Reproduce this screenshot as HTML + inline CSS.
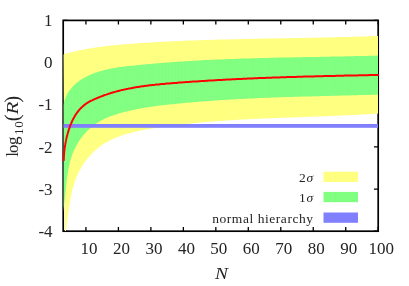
<!DOCTYPE html>
<html><head><meta charset="utf-8"><title>plot</title>
<style>
html,body{margin:0;padding:0;background:#fff;}
body{width:409px;height:286px;overflow:hidden;}
svg{display:block;}
text{font-family:"Liberation Serif",serif;fill:#242424;}
</style></head><body>
<svg width="409" height="286" viewBox="0 0 409 286">
<rect width="409" height="286" fill="#fff"/>
<defs><filter id="gs" x="0" y="0" width="409" height="286" filterUnits="userSpaceOnUse" color-interpolation-filters="sRGB"><feColorMatrix type="saturate" values="0"/></filter><clipPath id="c"><rect x="63.550000000000004" y="20.4" width="314.5" height="210.49999999999997"/></clipPath><clipPath id="b2"><path d="M63.0,54.4L63.1,54.4L63.2,54.4L63.3,54.4L63.5,54.3L63.7,54.3L63.9,54.2L64.1,54.1L64.4,54.1L64.6,54.0L64.9,53.9L65.2,53.8L65.5,53.7L65.8,53.7L66.1,53.6L66.5,53.5L66.8,53.4L67.2,53.3L67.6,53.2L67.9,53.1L68.3,53.0L68.7,52.9L69.1,52.8L69.6,52.7L70.0,52.6L70.4,52.4L70.9,52.3L71.3,52.2L71.8,52.1L72.3,52.0L72.8,51.9L73.3,51.8L73.8,51.6L74.3,51.5L74.8,51.4L75.3,51.3L75.8,51.2L76.4,51.0L76.9,50.9L77.5,50.8L78.1,50.7L78.6,50.5L79.2,50.4L79.8,50.3L80.4,50.2L81.0,50.1L81.6,49.9L82.2,49.8L82.8,49.7L83.4,49.6L84.1,49.5L84.7,49.3L85.4,49.2L86.0,49.1L86.7,49.0L87.3,48.9L88.0,48.7L88.7,48.6L89.4,48.5L90.1,48.4L90.8,48.3L91.5,48.2L92.2,48.0L92.9,47.9L93.6,47.8L94.3,47.7L95.1,47.6L95.8,47.5L96.5,47.4L97.3,47.3L98.0,47.2L98.8,47.1L99.6,47.0L100.3,46.9L101.1,46.8L101.9,46.6L102.7,46.5L103.5,46.4L104.3,46.4L105.1,46.3L105.9,46.2L106.7,46.1L107.5,46.0L108.4,45.9L109.2,45.8L110.0,45.7L110.9,45.6L111.7,45.5L112.6,45.4L113.4,45.3L114.3,45.2L115.2,45.2L116.1,45.1L116.9,45.0L117.8,44.9L118.7,44.8L119.6,44.7L120.5,44.7L121.4,44.6L122.3,44.5L123.2,44.4L124.1,44.4L125.0,44.3L126.0,44.2L126.9,44.1L127.8,44.1L128.8,44.0L129.7,43.9L130.7,43.8L131.6,43.8L132.6,43.7L133.5,43.6L134.5,43.6L135.5,43.5L136.5,43.4L137.4,43.3L138.4,43.3L139.4,43.2L140.4,43.1L141.4,43.1L142.4,43.0L143.4,42.9L144.4,42.9L145.4,42.8L146.4,42.7L147.5,42.7L148.5,42.6L149.5,42.6L150.6,42.5L151.6,42.4L152.6,42.4L153.7,42.3L154.7,42.2L155.8,42.2L156.9,42.1L157.9,42.1L159.0,42.0L160.1,41.9L161.1,41.9L162.2,41.8L163.3,41.8L164.4,41.7L165.5,41.7L166.6,41.6L167.7,41.5L168.8,41.5L169.9,41.4L171.0,41.4L172.1,41.3L173.2,41.3L174.3,41.2L175.5,41.2L176.6,41.1L177.7,41.1L178.8,41.0L180.0,41.0L181.1,40.9L182.3,40.9L183.4,40.8L184.6,40.8L185.7,40.7L186.9,40.7L188.1,40.6L189.2,40.6L190.4,40.5L191.6,40.5L192.8,40.5L194.0,40.4L195.1,40.4L196.3,40.3L197.5,40.3L198.7,40.2L199.9,40.2L201.1,40.2L202.3,40.1L203.5,40.1L204.8,40.0L206.0,40.0L207.2,40.0L208.4,39.9L209.7,39.9L210.9,39.8L212.1,39.8L213.4,39.8L214.6,39.7L215.9,39.7L217.1,39.7L218.4,39.6L219.6,39.6L220.9,39.6L222.1,39.5L223.4,39.5L224.7,39.5L226.0,39.4L227.2,39.4L228.5,39.4L229.8,39.3L231.1,39.3L232.4,39.3L233.7,39.2L235.0,39.2L236.3,39.2L237.6,39.2L238.9,39.1L240.2,39.1L241.5,39.1L242.8,39.0L244.1,39.0L245.5,39.0L246.8,39.0L248.1,38.9L249.4,38.9L250.8,38.9L252.1,38.9L253.5,38.8L254.8,38.8L256.1,38.8L257.5,38.7L258.9,38.7L260.2,38.7L261.6,38.7L262.9,38.6L264.3,38.6L265.7,38.6L267.0,38.6L268.4,38.5L269.8,38.5L271.2,38.5L272.6,38.5L273.9,38.5L275.3,38.4L276.7,38.4L278.1,38.4L279.5,38.4L280.9,38.3L282.3,38.3L283.7,38.3L285.2,38.3L286.6,38.2L288.0,38.2L289.4,38.2L290.8,38.2L292.3,38.1L293.7,38.1L295.1,38.1L296.6,38.1L298.0,38.0L299.4,38.0L300.9,38.0L302.3,37.9L303.8,37.9L305.2,37.9L306.7,37.9L308.1,37.8L309.6,37.8L311.1,37.8L312.5,37.8L314.0,37.7L315.5,37.7L317.0,37.7L318.4,37.6L319.9,37.6L321.4,37.6L322.9,37.5L324.4,37.5L325.9,37.5L327.4,37.4L328.9,37.4L330.4,37.4L331.9,37.3L333.4,37.3L334.9,37.3L336.4,37.2L337.9,37.2L339.4,37.1L340.9,37.1L342.5,37.1L344.0,37.0L345.5,37.0L347.0,36.9L348.6,36.9L350.1,36.9L351.6,36.8L353.2,36.8L354.7,36.7L356.3,36.7L357.8,36.6L359.4,36.6L360.9,36.5L362.5,36.5L364.0,36.4L365.6,36.4L367.2,36.3L368.7,36.2L370.3,36.2L371.9,36.1L373.4,36.1L375.0,36.0L376.6,35.9L378.2,35.9L378.2,113.6L376.3,113.7L374.4,113.8L372.5,113.9L370.6,114.1L368.7,114.2L366.8,114.3L364.9,114.4L363.0,114.5L361.1,114.6L359.2,114.7L357.3,114.8L355.4,114.9L353.5,115.0L351.7,115.1L349.8,115.2L347.9,115.2L346.0,115.3L344.2,115.4L342.3,115.5L340.4,115.6L338.5,115.7L336.7,115.7L334.8,115.8L333.0,115.9L331.1,116.0L329.3,116.0L327.4,116.1L325.6,116.2L323.7,116.2L321.9,116.3L320.0,116.4L318.2,116.5L316.4,116.5L314.5,116.6L312.7,116.7L310.9,116.7L309.1,116.8L307.2,116.9L305.4,116.9L303.6,117.0L301.8,117.1L300.0,117.1L298.2,117.2L296.4,117.2L294.6,117.3L292.8,117.4L291.0,117.4L289.2,117.5L287.5,117.6L285.7,117.6L283.9,117.7L282.1,117.8L280.4,117.8L278.6,117.9L276.9,118.0L275.1,118.1L273.4,118.1L271.6,118.2L269.9,118.3L268.1,118.3L266.4,118.4L264.7,118.5L262.9,118.6L261.2,118.6L259.5,118.7L257.8,118.8L256.1,118.9L254.4,119.0L252.7,119.0L251.0,119.1L249.3,119.2L247.6,119.3L245.9,119.4L244.3,119.5L242.6,119.6L240.9,119.6L239.3,119.7L237.6,119.8L235.9,119.9L234.3,120.0L232.7,120.1L231.0,120.2L229.4,120.3L227.7,120.4L226.1,120.5L224.5,120.6L222.9,120.7L221.3,120.9L219.7,121.0L218.1,121.1L216.5,121.2L214.9,121.3L213.3,121.4L211.7,121.6L210.1,121.7L208.6,121.8L207.0,121.9L205.4,122.1L203.9,122.2L202.3,122.4L200.8,122.5L199.2,122.6L197.7,122.8L196.1,122.9L194.6,123.1L193.0,123.2L191.5,123.4L190.0,123.5L188.5,123.7L186.9,123.8L185.4,124.0L183.9,124.2L182.4,124.4L180.9,124.5L179.4,124.7L177.9,124.9L176.4,125.1L174.9,125.2L173.4,125.4L171.9,125.6L170.4,125.8L169.0,126.0L167.5,126.2L166.0,126.4L164.5,126.6L163.1,126.8L161.6,127.0L160.1,127.2L158.7,127.5L157.2,127.7L155.8,127.9L154.3,128.1L152.9,128.4L151.4,128.6L150.0,128.8L148.6,129.1L147.1,129.3L145.7,129.6L144.3,129.8L142.9,130.1L141.5,130.4L140.0,130.6L138.7,130.9L137.3,131.2L135.9,131.5L134.5,131.8L133.2,132.2L131.8,132.5L130.5,132.9L129.1,133.2L127.8,133.6L126.5,134.0L125.2,134.3L123.9,134.8L122.6,135.2L121.4,135.6L120.1,136.0L118.9,136.5L117.6,137.0L116.4,137.5L115.2,138.0L114.0,138.5L112.8,139.0L111.7,139.5L110.5,140.1L109.4,140.7L108.3,141.3L107.2,141.9L106.1,142.5L105.0,143.2L104.0,143.8L102.9,144.5L101.9,145.2L100.9,145.9L99.9,146.6L98.9,147.4L98.0,148.1L97.0,148.9L96.1,149.7L95.2,150.5L94.3,151.3L93.4,152.1L92.6,153.0L91.7,153.8L90.9,154.7L90.1,155.6L89.3,156.5L88.5,157.4L87.8,158.3L87.0,159.2L86.3,160.1L85.6,161.0L84.9,162.0L84.3,162.9L83.6,163.9L83.0,164.8L82.4,165.8L81.8,166.7L81.2,167.7L80.6,168.7L80.1,169.6L79.5,170.6L79.0,171.6L78.5,172.6L78.1,173.6L77.6,174.5L77.2,175.5L76.7,176.5L76.3,177.5L75.9,178.5L75.5,179.5L75.2,180.5L74.8,181.4L74.5,182.4L74.2,183.4L73.9,184.4L73.6,185.4L73.3,186.3L73.1,187.3L72.8,188.3L72.6,189.2L72.4,190.2L72.1,191.1L71.9,192.1L71.7,193.0L71.5,194.0L71.3,194.9L71.2,195.8L71.0,196.8L70.8,197.7L70.6,198.6L70.5,199.5L70.3,200.4L70.2,201.3L70.0,202.2L69.9,203.1L69.7,203.9L69.6,204.8L69.5,205.6L69.3,206.5L69.2,207.3L69.1,208.2L68.9,209.0L68.8,209.8L68.7,210.7L68.6,211.5L68.5,212.3L68.3,213.1L68.2,213.9L68.1,214.6L68.0,215.4L67.9,216.2L67.8,216.9L67.7,217.7L67.6,218.4L67.5,219.1L67.4,219.9L67.3,220.6L67.2,221.3L67.2,222.0L67.1,222.7L67.0,223.3L66.9,224.0L66.8,224.7L66.7,225.3L66.7,226.0L66.6,226.6L66.5,227.2L66.4,227.8L66.3,228.4L66.3,229.0L66.2,229.6L66.1,230.2L66.1,230.7L66.0,231.3L65.9,231.8L65.9,232.4L65.8,232.9L65.8,233.4L65.7,233.9L65.6,234.3L65.6,234.8L65.5,235.3L65.5,235.7L65.4,236.1L65.4,236.5L65.3,236.9L65.3,237.3L65.2,237.6L65.2,238.0L65.2,238.3L65.1,238.6L65.1,238.9L65.1,239.2L65.0,239.4L65.0,239.6L65.0,239.8L65.0,239.9L65.0,240.0Z"/></clipPath></defs>
<g stroke="#000" stroke-width="1.3" fill="none"><path d="M85.93,231.2v-4.2M85.93,20.4v4.2"/><path d="M118.41,231.2v-4.2M118.41,20.4v4.2"/><path d="M150.88,231.2v-4.2M150.88,20.4v4.2"/><path d="M183.35,231.2v-4.2M183.35,20.4v4.2"/><path d="M215.83,231.2v-4.2M215.83,20.4v4.2"/><path d="M248.30,231.2v-4.2M248.30,20.4v4.2"/><path d="M280.78,231.2v-4.2M280.78,20.4v4.2"/><path d="M313.25,231.2v-4.2M313.25,20.4v4.2"/><path d="M345.73,231.2v-4.2M345.73,20.4v4.2"/><path d="M378.20,231.2v-4.2M378.20,20.4v4.2"/><path d="M63.2,231.20h4.2M378.2,231.20h-4.2"/><path d="M63.2,189.04h4.2M378.2,189.04h-4.2"/><path d="M63.2,146.88h4.2M378.2,146.88h-4.2"/><path d="M63.2,104.72h4.2M378.2,104.72h-4.2"/><path d="M63.2,62.56h4.2M378.2,62.56h-4.2"/><path d="M63.2,20.40h4.2M378.2,20.40h-4.2"/></g>
<rect x="63.2" y="20.4" width="315.0" height="210.79999999999998" fill="none" stroke="#000" stroke-width="1.7"/>
<g clip-path="url(#c)">
<path d="M63.0,54.4L63.1,54.4L63.2,54.4L63.3,54.4L63.5,54.3L63.7,54.3L63.9,54.2L64.1,54.1L64.4,54.1L64.6,54.0L64.9,53.9L65.2,53.8L65.5,53.7L65.8,53.7L66.1,53.6L66.5,53.5L66.8,53.4L67.2,53.3L67.6,53.2L67.9,53.1L68.3,53.0L68.7,52.9L69.1,52.8L69.6,52.7L70.0,52.6L70.4,52.4L70.9,52.3L71.3,52.2L71.8,52.1L72.3,52.0L72.8,51.9L73.3,51.8L73.8,51.6L74.3,51.5L74.8,51.4L75.3,51.3L75.8,51.2L76.4,51.0L76.9,50.9L77.5,50.8L78.1,50.7L78.6,50.5L79.2,50.4L79.8,50.3L80.4,50.2L81.0,50.1L81.6,49.9L82.2,49.8L82.8,49.7L83.4,49.6L84.1,49.5L84.7,49.3L85.4,49.2L86.0,49.1L86.7,49.0L87.3,48.9L88.0,48.7L88.7,48.6L89.4,48.5L90.1,48.4L90.8,48.3L91.5,48.2L92.2,48.0L92.9,47.9L93.6,47.8L94.3,47.7L95.1,47.6L95.8,47.5L96.5,47.4L97.3,47.3L98.0,47.2L98.8,47.1L99.6,47.0L100.3,46.9L101.1,46.8L101.9,46.6L102.7,46.5L103.5,46.4L104.3,46.4L105.1,46.3L105.9,46.2L106.7,46.1L107.5,46.0L108.4,45.9L109.2,45.8L110.0,45.7L110.9,45.6L111.7,45.5L112.6,45.4L113.4,45.3L114.3,45.2L115.2,45.2L116.1,45.1L116.9,45.0L117.8,44.9L118.7,44.8L119.6,44.7L120.5,44.7L121.4,44.6L122.3,44.5L123.2,44.4L124.1,44.4L125.0,44.3L126.0,44.2L126.9,44.1L127.8,44.1L128.8,44.0L129.7,43.9L130.7,43.8L131.6,43.8L132.6,43.7L133.5,43.6L134.5,43.6L135.5,43.5L136.5,43.4L137.4,43.3L138.4,43.3L139.4,43.2L140.4,43.1L141.4,43.1L142.4,43.0L143.4,42.9L144.4,42.9L145.4,42.8L146.4,42.7L147.5,42.7L148.5,42.6L149.5,42.6L150.6,42.5L151.6,42.4L152.6,42.4L153.7,42.3L154.7,42.2L155.8,42.2L156.9,42.1L157.9,42.1L159.0,42.0L160.1,41.9L161.1,41.9L162.2,41.8L163.3,41.8L164.4,41.7L165.5,41.7L166.6,41.6L167.7,41.5L168.8,41.5L169.9,41.4L171.0,41.4L172.1,41.3L173.2,41.3L174.3,41.2L175.5,41.2L176.6,41.1L177.7,41.1L178.8,41.0L180.0,41.0L181.1,40.9L182.3,40.9L183.4,40.8L184.6,40.8L185.7,40.7L186.9,40.7L188.1,40.6L189.2,40.6L190.4,40.5L191.6,40.5L192.8,40.5L194.0,40.4L195.1,40.4L196.3,40.3L197.5,40.3L198.7,40.2L199.9,40.2L201.1,40.2L202.3,40.1L203.5,40.1L204.8,40.0L206.0,40.0L207.2,40.0L208.4,39.9L209.7,39.9L210.9,39.8L212.1,39.8L213.4,39.8L214.6,39.7L215.9,39.7L217.1,39.7L218.4,39.6L219.6,39.6L220.9,39.6L222.1,39.5L223.4,39.5L224.7,39.5L226.0,39.4L227.2,39.4L228.5,39.4L229.8,39.3L231.1,39.3L232.4,39.3L233.7,39.2L235.0,39.2L236.3,39.2L237.6,39.2L238.9,39.1L240.2,39.1L241.5,39.1L242.8,39.0L244.1,39.0L245.5,39.0L246.8,39.0L248.1,38.9L249.4,38.9L250.8,38.9L252.1,38.9L253.5,38.8L254.8,38.8L256.1,38.8L257.5,38.7L258.9,38.7L260.2,38.7L261.6,38.7L262.9,38.6L264.3,38.6L265.7,38.6L267.0,38.6L268.4,38.5L269.8,38.5L271.2,38.5L272.6,38.5L273.9,38.5L275.3,38.4L276.7,38.4L278.1,38.4L279.5,38.4L280.9,38.3L282.3,38.3L283.7,38.3L285.2,38.3L286.6,38.2L288.0,38.2L289.4,38.2L290.8,38.2L292.3,38.1L293.7,38.1L295.1,38.1L296.6,38.1L298.0,38.0L299.4,38.0L300.9,38.0L302.3,37.9L303.8,37.9L305.2,37.9L306.7,37.9L308.1,37.8L309.6,37.8L311.1,37.8L312.5,37.8L314.0,37.7L315.5,37.7L317.0,37.7L318.4,37.6L319.9,37.6L321.4,37.6L322.9,37.5L324.4,37.5L325.9,37.5L327.4,37.4L328.9,37.4L330.4,37.4L331.9,37.3L333.4,37.3L334.9,37.3L336.4,37.2L337.9,37.2L339.4,37.1L340.9,37.1L342.5,37.1L344.0,37.0L345.5,37.0L347.0,36.9L348.6,36.9L350.1,36.9L351.6,36.8L353.2,36.8L354.7,36.7L356.3,36.7L357.8,36.6L359.4,36.6L360.9,36.5L362.5,36.5L364.0,36.4L365.6,36.4L367.2,36.3L368.7,36.2L370.3,36.2L371.9,36.1L373.4,36.1L375.0,36.0L376.6,35.9L378.2,35.9L378.2,113.6L376.3,113.7L374.4,113.8L372.5,113.9L370.6,114.1L368.7,114.2L366.8,114.3L364.9,114.4L363.0,114.5L361.1,114.6L359.2,114.7L357.3,114.8L355.4,114.9L353.5,115.0L351.7,115.1L349.8,115.2L347.9,115.2L346.0,115.3L344.2,115.4L342.3,115.5L340.4,115.6L338.5,115.7L336.7,115.7L334.8,115.8L333.0,115.9L331.1,116.0L329.3,116.0L327.4,116.1L325.6,116.2L323.7,116.2L321.9,116.3L320.0,116.4L318.2,116.5L316.4,116.5L314.5,116.6L312.7,116.7L310.9,116.7L309.1,116.8L307.2,116.9L305.4,116.9L303.6,117.0L301.8,117.1L300.0,117.1L298.2,117.2L296.4,117.2L294.6,117.3L292.8,117.4L291.0,117.4L289.2,117.5L287.5,117.6L285.7,117.6L283.9,117.7L282.1,117.8L280.4,117.8L278.6,117.9L276.9,118.0L275.1,118.1L273.4,118.1L271.6,118.2L269.9,118.3L268.1,118.3L266.4,118.4L264.7,118.5L262.9,118.6L261.2,118.6L259.5,118.7L257.8,118.8L256.1,118.9L254.4,119.0L252.7,119.0L251.0,119.1L249.3,119.2L247.6,119.3L245.9,119.4L244.3,119.5L242.6,119.6L240.9,119.6L239.3,119.7L237.6,119.8L235.9,119.9L234.3,120.0L232.7,120.1L231.0,120.2L229.4,120.3L227.7,120.4L226.1,120.5L224.5,120.6L222.9,120.7L221.3,120.9L219.7,121.0L218.1,121.1L216.5,121.2L214.9,121.3L213.3,121.4L211.7,121.6L210.1,121.7L208.6,121.8L207.0,121.9L205.4,122.1L203.9,122.2L202.3,122.4L200.8,122.5L199.2,122.6L197.7,122.8L196.1,122.9L194.6,123.1L193.0,123.2L191.5,123.4L190.0,123.5L188.5,123.7L186.9,123.8L185.4,124.0L183.9,124.2L182.4,124.4L180.9,124.5L179.4,124.7L177.9,124.9L176.4,125.1L174.9,125.2L173.4,125.4L171.9,125.6L170.4,125.8L169.0,126.0L167.5,126.2L166.0,126.4L164.5,126.6L163.1,126.8L161.6,127.0L160.1,127.2L158.7,127.5L157.2,127.7L155.8,127.9L154.3,128.1L152.9,128.4L151.4,128.6L150.0,128.8L148.6,129.1L147.1,129.3L145.7,129.6L144.3,129.8L142.9,130.1L141.5,130.4L140.0,130.6L138.7,130.9L137.3,131.2L135.9,131.5L134.5,131.8L133.2,132.2L131.8,132.5L130.5,132.9L129.1,133.2L127.8,133.6L126.5,134.0L125.2,134.3L123.9,134.8L122.6,135.2L121.4,135.6L120.1,136.0L118.9,136.5L117.6,137.0L116.4,137.5L115.2,138.0L114.0,138.5L112.8,139.0L111.7,139.5L110.5,140.1L109.4,140.7L108.3,141.3L107.2,141.9L106.1,142.5L105.0,143.2L104.0,143.8L102.9,144.5L101.9,145.2L100.9,145.9L99.9,146.6L98.9,147.4L98.0,148.1L97.0,148.9L96.1,149.7L95.2,150.5L94.3,151.3L93.4,152.1L92.6,153.0L91.7,153.8L90.9,154.7L90.1,155.6L89.3,156.5L88.5,157.4L87.8,158.3L87.0,159.2L86.3,160.1L85.6,161.0L84.9,162.0L84.3,162.9L83.6,163.9L83.0,164.8L82.4,165.8L81.8,166.7L81.2,167.7L80.6,168.7L80.1,169.6L79.5,170.6L79.0,171.6L78.5,172.6L78.1,173.6L77.6,174.5L77.2,175.5L76.7,176.5L76.3,177.5L75.9,178.5L75.5,179.5L75.2,180.5L74.8,181.4L74.5,182.4L74.2,183.4L73.9,184.4L73.6,185.4L73.3,186.3L73.1,187.3L72.8,188.3L72.6,189.2L72.4,190.2L72.1,191.1L71.9,192.1L71.7,193.0L71.5,194.0L71.3,194.9L71.2,195.8L71.0,196.8L70.8,197.7L70.6,198.6L70.5,199.5L70.3,200.4L70.2,201.3L70.0,202.2L69.9,203.1L69.7,203.9L69.6,204.8L69.5,205.6L69.3,206.5L69.2,207.3L69.1,208.2L68.9,209.0L68.8,209.8L68.7,210.7L68.6,211.5L68.5,212.3L68.3,213.1L68.2,213.9L68.1,214.6L68.0,215.4L67.9,216.2L67.8,216.9L67.7,217.7L67.6,218.4L67.5,219.1L67.4,219.9L67.3,220.6L67.2,221.3L67.2,222.0L67.1,222.7L67.0,223.3L66.9,224.0L66.8,224.7L66.7,225.3L66.7,226.0L66.6,226.6L66.5,227.2L66.4,227.8L66.3,228.4L66.3,229.0L66.2,229.6L66.1,230.2L66.1,230.7L66.0,231.3L65.9,231.8L65.9,232.4L65.8,232.9L65.8,233.4L65.7,233.9L65.6,234.3L65.6,234.8L65.5,235.3L65.5,235.7L65.4,236.1L65.4,236.5L65.3,236.9L65.3,237.3L65.2,237.6L65.2,238.0L65.2,238.3L65.1,238.6L65.1,238.9L65.1,239.2L65.0,239.4L65.0,239.6L65.0,239.8L65.0,239.9L65.0,240.0Z" fill="#ffff80"/>
<path d="M63.3,105.8L63.3,105.8L63.3,105.6L63.3,105.5L63.4,105.3L63.4,105.0L63.5,104.8L63.5,104.5L63.6,104.2L63.6,103.9L63.7,103.6L63.8,103.3L63.9,102.9L64.0,102.6L64.1,102.2L64.2,101.8L64.3,101.4L64.4,101.0L64.5,100.6L64.6,100.2L64.8,99.8L64.9,99.3L65.1,98.9L65.3,98.5L65.4,98.0L65.6,97.5L65.8,97.1L66.0,96.6L66.2,96.1L66.5,95.7L66.7,95.2L66.9,94.7L67.2,94.2L67.5,93.8L67.7,93.3L68.0,92.8L68.3,92.3L68.6,91.8L69.0,91.3L69.3,90.8L69.6,90.3L70.0,89.9L70.4,89.4L70.7,88.9L71.1,88.4L71.5,87.9L72.0,87.4L72.4,87.0L72.8,86.5L73.3,86.0L73.7,85.5L74.2,85.1L74.7,84.6L75.2,84.1L75.7,83.7L76.2,83.2L76.8,82.8L77.3,82.3L77.9,81.9L78.5,81.5L79.0,81.0L79.6,80.6L80.2,80.2L80.9,79.8L81.5,79.4L82.1,79.0L82.8,78.6L83.5,78.2L84.1,77.8L84.8,77.4L85.5,77.0L86.2,76.7L87.0,76.3L87.7,76.0L88.4,75.6L89.2,75.3L89.9,74.9L90.7,74.6L91.5,74.3L92.3,73.9L93.1,73.6L93.9,73.3L94.7,73.0L95.5,72.7L96.4,72.4L97.2,72.2L98.0,71.9L98.9,71.6L99.8,71.4L100.6,71.1L101.5,70.9L102.4,70.6L103.3,70.4L104.2,70.1L105.1,69.9L106.0,69.7L106.9,69.5L107.9,69.3L108.8,69.1L109.7,68.9L110.7,68.7L111.6,68.5L112.6,68.3L113.6,68.2L114.5,68.0L115.5,67.8L116.5,67.7L117.5,67.5L118.5,67.3L119.5,67.2L120.5,67.1L121.5,66.9L122.6,66.8L123.6,66.6L124.6,66.5L125.7,66.4L126.7,66.3L127.8,66.1L128.8,66.0L129.9,65.9L130.9,65.8L132.0,65.7L133.1,65.6L134.1,65.5L135.2,65.4L136.3,65.2L137.4,65.1L138.5,65.0L139.6,64.9L140.6,64.8L141.7,64.7L142.8,64.6L143.9,64.5L145.1,64.4L146.2,64.3L147.3,64.2L148.4,64.1L149.5,64.0L150.6,63.9L151.8,63.8L152.9,63.7L154.0,63.6L155.2,63.5L156.3,63.4L157.5,63.3L158.6,63.2L159.8,63.1L160.9,63.0L162.1,62.9L163.3,62.8L164.4,62.7L165.6,62.6L166.8,62.5L167.9,62.5L169.1,62.4L170.3,62.3L171.5,62.2L172.7,62.1L173.9,62.0L175.1,61.9L176.3,61.8L177.5,61.8L178.7,61.7L179.9,61.6L181.2,61.5L182.4,61.4L183.6,61.4L184.9,61.3L186.1,61.2L187.3,61.1L188.6,61.1L189.8,61.0L191.1,60.9L192.3,60.8L193.6,60.8L194.9,60.7L196.1,60.6L197.4,60.5L198.7,60.5L200.0,60.4L201.2,60.3L202.5,60.3L203.8,60.2L205.1,60.1L206.4,60.1L207.7,60.0L209.0,59.9L210.3,59.9L211.7,59.8L213.0,59.8L214.3,59.7L215.6,59.6L217.0,59.6L218.3,59.5L219.6,59.5L221.0,59.4L222.3,59.4L223.7,59.3L225.0,59.2L226.4,59.2L227.7,59.1L229.1,59.1L230.5,59.0L231.8,59.0L233.2,58.9L234.6,58.9L236.0,58.8L237.3,58.8L238.7,58.7L240.1,58.7L241.5,58.6L242.9,58.6L244.3,58.6L245.7,58.5L247.1,58.5L248.6,58.4L250.0,58.4L251.4,58.3L252.8,58.3L254.2,58.3L255.7,58.2L257.1,58.2L258.5,58.1L260.0,58.1L261.4,58.1L262.9,58.0L264.3,58.0L265.8,57.9L267.2,57.9L268.7,57.9L270.1,57.8L271.6,57.8L273.1,57.8L274.6,57.7L276.0,57.7L277.5,57.7L279.0,57.6L280.5,57.6L282.0,57.6L283.5,57.5L285.0,57.5L286.5,57.5L288.0,57.4L289.5,57.4L291.0,57.4L292.5,57.4L294.0,57.3L295.5,57.3L297.0,57.3L298.5,57.2L300.1,57.2L301.6,57.2L303.1,57.1L304.7,57.1L306.2,57.1L307.7,57.1L309.3,57.0L310.8,57.0L312.4,57.0L313.9,56.9L315.5,56.9L317.0,56.9L318.6,56.9L320.2,56.8L321.7,56.8L323.3,56.8L324.9,56.7L326.5,56.7L328.0,56.7L329.6,56.7L331.2,56.6L332.8,56.6L334.4,56.6L336.0,56.5L337.5,56.5L339.1,56.5L340.7,56.4L342.3,56.4L343.9,56.4L345.6,56.3L347.2,56.3L348.8,56.3L350.4,56.2L352.0,56.2L353.6,56.2L355.2,56.1L356.9,56.1L358.5,56.1L360.1,56.0L361.7,56.0L363.4,56.0L365.0,55.9L366.7,55.9L368.3,55.8L369.9,55.8L371.6,55.8L373.2,55.7L374.9,55.7L376.5,55.6L378.2,55.6L378.2,94.6L376.3,94.7L374.4,94.7L372.5,94.8L370.5,94.8L368.6,94.9L366.7,94.9L364.8,95.0L362.9,95.0L361.0,95.1L359.2,95.1L357.3,95.2L355.4,95.2L353.5,95.3L351.6,95.3L349.7,95.4L347.9,95.4L346.0,95.5L344.1,95.5L342.3,95.6L340.4,95.6L338.6,95.7L336.7,95.7L334.9,95.7L333.0,95.8L331.2,95.8L329.3,95.9L327.5,95.9L325.7,96.0L323.8,96.0L322.0,96.1L320.2,96.1L318.4,96.2L316.5,96.2L314.7,96.3L312.9,96.3L311.1,96.4L309.3,96.4L307.5,96.5L305.7,96.5L303.9,96.6L302.1,96.6L300.3,96.7L298.6,96.7L296.8,96.8L295.0,96.8L293.2,96.9L291.5,96.9L289.7,97.0L287.9,97.0L286.2,97.1L284.4,97.1L282.7,97.2L280.9,97.3L279.2,97.3L277.4,97.4L275.7,97.4L274.0,97.5L272.2,97.6L270.5,97.6L268.8,97.7L267.1,97.8L265.3,97.8L263.6,97.9L261.9,98.0L260.2,98.1L258.5,98.1L256.8,98.2L255.1,98.3L253.4,98.4L251.8,98.4L250.1,98.5L248.4,98.6L246.7,98.7L245.1,98.8L243.4,98.8L241.7,98.9L240.1,99.0L238.4,99.1L236.8,99.2L235.1,99.3L233.5,99.4L231.8,99.5L230.2,99.6L228.6,99.7L227.0,99.7L225.3,99.8L223.7,99.9L222.1,100.1L220.5,100.2L218.9,100.3L217.3,100.4L215.7,100.5L214.1,100.6L212.5,100.7L210.9,100.8L209.3,100.9L207.8,101.0L206.2,101.2L204.6,101.3L203.0,101.4L201.5,101.5L199.9,101.6L198.4,101.8L196.8,101.9L195.3,102.0L193.7,102.2L192.2,102.3L190.7,102.4L189.1,102.6L187.6,102.7L186.1,102.8L184.6,103.0L183.1,103.1L181.6,103.3L180.1,103.4L178.6,103.6L177.1,103.7L175.6,103.9L174.1,104.0L172.6,104.2L171.2,104.3L169.7,104.5L168.2,104.6L166.8,104.8L165.3,105.0L163.8,105.1L162.4,105.3L161.0,105.5L159.5,105.6L158.1,105.8L156.7,106.0L155.2,106.2L153.8,106.4L152.4,106.6L151.0,106.8L149.6,107.0L148.2,107.2L146.8,107.4L145.4,107.6L144.0,107.9L142.6,108.1L141.2,108.4L139.9,108.6L138.5,108.9L137.1,109.1L135.8,109.4L134.4,109.7L133.1,109.9L131.7,110.2L130.4,110.5L129.1,110.8L127.7,111.2L126.4,111.5L125.1,111.8L123.8,112.1L122.5,112.5L121.2,112.8L119.9,113.2L118.6,113.6L117.3,114.0L116.1,114.4L114.8,114.8L113.6,115.2L112.3,115.7L111.1,116.1L109.9,116.6L108.7,117.0L107.5,117.5L106.3,118.0L105.2,118.6L104.1,119.1L102.9,119.7L101.8,120.2L100.7,120.8L99.7,121.4L98.6,122.0L97.6,122.7L96.5,123.3L95.5,124.0L94.6,124.7L93.6,125.4L92.7,126.1L91.7,126.9L90.8,127.6L89.9,128.4L89.1,129.2L88.2,130.0L87.4,130.8L86.6,131.6L85.8,132.5L85.0,133.3L84.3,134.2L83.5,135.0L82.8,135.9L82.1,136.8L81.4,137.7L80.8,138.6L80.1,139.5L79.5,140.4L78.9,141.3L78.3,142.3L77.8,143.2L77.2,144.1L76.7,145.1L76.2,146.0L75.7,147.0L75.2,147.9L74.7,148.9L74.3,149.8L73.8,150.8L73.4,151.7L73.0,152.7L72.7,153.7L72.3,154.6L71.9,155.6L71.6,156.5L71.3,157.5L71.0,158.5L70.7,159.4L70.4,160.4L70.2,161.3L69.9,162.3L69.7,163.2L69.5,164.2L69.3,165.1L69.1,166.0L68.9,167.0L68.7,167.9L68.5,168.8L68.3,169.7L68.2,170.6L68.0,171.6L67.9,172.5L67.7,173.4L67.6,174.2L67.5,175.1L67.3,176.0L67.2,176.9L67.1,177.8L67.0,178.6L66.9,179.5L66.8,180.3L66.7,181.1L66.6,182.0L66.5,182.8L66.4,183.6L66.3,184.4L66.2,185.2L66.1,186.0L66.0,186.8L65.9,187.6L65.9,188.3L65.8,189.1L65.7,189.8L65.6,190.6L65.6,191.3L65.5,192.0L65.4,192.8L65.3,193.5L65.3,194.2L65.2,194.8L65.1,195.5L65.0,196.2L65.0,196.8L64.9,197.5L64.8,198.1L64.8,198.8L64.7,199.4L64.6,200.0L64.6,200.6L64.5,201.2L64.4,201.7L64.4,202.3L64.3,202.9L64.2,203.4L64.2,203.9L64.1,204.5L64.0,205.0L64.0,205.5L63.9,205.9L63.8,206.4L63.8,206.9L63.7,207.3L63.7,207.7L63.6,208.1L63.5,208.5L63.5,208.9L63.4,209.3L63.4,209.6L63.3,210.0L63.3,210.3L63.2,210.6L63.2,210.9L63.2,211.1L63.1,211.3L63.1,211.5L63.1,211.7L63.0,211.8L63.0,211.9Z" fill="#80ff80"/>
<g clip-path="url(#b2)"><path d="M66.45,20.4V231.2M69.69,20.4V231.2M72.94,20.4V231.2M76.19,20.4V231.2M79.44,20.4V231.2M82.68,20.4V231.2M85.93,20.4V231.2M89.18,20.4V231.2M92.43,20.4V231.2M95.67,20.4V231.2M98.92,20.4V231.2M102.17,20.4V231.2M105.42,20.4V231.2M108.66,20.4V231.2M111.91,20.4V231.2M115.16,20.4V231.2M118.41,20.4V231.2M121.65,20.4V231.2M124.90,20.4V231.2M128.15,20.4V231.2M131.40,20.4V231.2M134.64,20.4V231.2M137.89,20.4V231.2M141.14,20.4V231.2M144.39,20.4V231.2M147.63,20.4V231.2M150.88,20.4V231.2M154.13,20.4V231.2M157.38,20.4V231.2M160.62,20.4V231.2M163.87,20.4V231.2M167.12,20.4V231.2M170.36,20.4V231.2M173.61,20.4V231.2M176.86,20.4V231.2M180.11,20.4V231.2M183.35,20.4V231.2M186.60,20.4V231.2M189.85,20.4V231.2M193.10,20.4V231.2M196.34,20.4V231.2M199.59,20.4V231.2M202.84,20.4V231.2M206.09,20.4V231.2M209.33,20.4V231.2M212.58,20.4V231.2M215.83,20.4V231.2M232.07,20.4V231.2M248.30,20.4V231.2M264.54,20.4V231.2M280.78,20.4V231.2M297.01,20.4V231.2M313.25,20.4V231.2M329.49,20.4V231.2M345.73,20.4V231.2M361.96,20.4V231.2" stroke="#fff" stroke-opacity="0.09" stroke-width="0.6" fill="none"/></g>
<rect x="63.2" y="124.0" width="315.0" height="3.8" fill="#8080ff"/>
</g>
<path d="M63.7,160.9L63.7,160.8L63.7,160.7L63.7,160.5L63.7,160.3L63.7,160.1L63.7,159.9L63.8,159.6L63.8,159.3L63.8,159.0L63.8,158.7L63.8,158.4L63.8,158.0L63.8,157.7L63.8,157.3L63.9,156.9L63.9,156.5L63.9,156.1L63.9,155.6L64.0,155.2L64.0,154.7L64.0,154.3L64.1,153.8L64.1,153.3L64.1,152.8L64.2,152.3L64.2,151.8L64.3,151.3L64.3,150.7L64.4,150.2L64.5,149.6L64.5,149.0L64.6,148.5L64.7,147.9L64.8,147.3L64.9,146.7L65.0,146.1L65.1,145.4L65.2,144.8L65.3,144.2L65.4,143.5L65.5,142.9L65.6,142.2L65.8,141.5L65.9,140.9L66.0,140.2L66.2,139.5L66.3,138.8L66.5,138.1L66.7,137.4L66.8,136.7L67.0,135.9L67.2,135.2L67.4,134.5L67.6,133.7L67.8,133.0L68.1,132.2L68.3,131.4L68.5,130.7L68.8,129.9L69.0,129.1L69.3,128.3L69.6,127.6L69.8,126.8L70.1,126.0L70.4,125.2L70.7,124.4L71.1,123.6L71.4,122.8L71.8,122.0L72.1,121.2L72.5,120.4L72.9,119.6L73.3,118.8L73.7,118.0L74.2,117.2L74.6,116.4L75.1,115.6L75.6,114.8L76.1,114.0L76.6,113.3L77.1,112.5L77.7,111.8L78.3,111.0L78.9,110.3L79.5,109.6L80.1,108.9L80.8,108.2L81.5,107.5L82.2,106.9L82.9,106.2L83.6,105.6L84.4,105.0L85.2,104.4L86.0,103.8L86.8,103.2L87.7,102.7L88.5,102.2L89.4,101.7L90.3,101.2L91.3,100.7L92.2,100.3L93.1,99.8L94.1,99.4L95.1,98.9L96.1,98.5L97.0,98.1L98.0,97.7L99.0,97.3L100.0,96.8L101.1,96.5L102.1,96.1L103.1,95.7L104.1,95.3L105.2,94.9L106.2,94.6L107.3,94.2L108.4,93.9L109.4,93.5L110.5,93.2L111.6,92.8L112.7,92.5L113.8,92.2L114.9,91.9L116.0,91.6L117.1,91.3L118.2,91.0L119.4,90.7L120.5,90.4L121.6,90.1L122.8,89.9L124.0,89.6L125.1,89.4L126.3,89.1L127.5,88.9L128.6,88.6L129.8,88.4L131.0,88.2L132.2,87.9L133.4,87.7L134.7,87.5L135.9,87.3L137.1,87.1L138.3,86.9L139.6,86.7L140.8,86.5L142.0,86.3L143.3,86.2L144.6,86.0L145.8,85.8L147.1,85.7L148.4,85.5L149.6,85.3L150.9,85.2L152.2,85.0L153.5,84.9L154.8,84.8L156.1,84.6L157.4,84.5L158.7,84.4L160.1,84.2L161.4,84.1L162.7,84.0L164.1,83.9L165.4,83.7L166.7,83.6L168.1,83.5L169.4,83.4L170.8,83.3L172.1,83.2L173.5,83.1L174.9,83.0L176.2,82.9L177.6,82.7L179.0,82.6L180.4,82.5L181.8,82.4L183.1,82.3L184.5,82.2L185.9,82.1L187.3,82.0L188.7,81.9L190.1,81.8L191.6,81.7L193.0,81.6L194.4,81.5L195.8,81.4L197.2,81.4L198.7,81.3L200.1,81.2L201.5,81.1L203.0,81.0L204.4,80.9L205.9,80.8L207.3,80.7L208.8,80.6L210.2,80.5L211.7,80.4L213.1,80.4L214.6,80.3L216.1,80.2L217.5,80.1L219.0,80.0L220.5,79.9L222.0,79.9L223.5,79.8L225.0,79.7L226.5,79.6L228.0,79.5L229.5,79.5L231.0,79.4L232.5,79.3L234.0,79.2L235.5,79.2L237.0,79.1L238.6,79.0L240.1,79.0L241.6,78.9L243.1,78.8L244.7,78.7L246.2,78.7L247.8,78.6L249.3,78.5L250.9,78.5L252.4,78.4L254.0,78.3L255.5,78.3L257.1,78.2L258.7,78.1L260.2,78.1L261.8,78.0L263.4,78.0L265.0,77.9L266.5,77.8L268.1,77.8L269.7,77.7L271.3,77.7L272.9,77.6L274.5,77.6L276.1,77.5L277.7,77.4L279.3,77.4L281.0,77.3L282.6,77.3L284.2,77.2L285.8,77.2L287.5,77.1L289.1,77.1L290.7,77.0L292.4,77.0L294.0,76.9L295.6,76.9L297.3,76.8L298.9,76.8L300.6,76.7L302.3,76.7L303.9,76.6L305.6,76.6L307.3,76.5L308.9,76.5L310.6,76.5L312.3,76.4L314.0,76.4L315.7,76.3L317.4,76.3L319.0,76.2L320.7,76.2L322.4,76.2L324.2,76.1L325.9,76.1L327.6,76.0L329.3,76.0L331.0,76.0L332.7,75.9L334.4,75.9L336.2,75.8L337.9,75.8L339.6,75.8L341.4,75.7L343.1,75.7L344.9,75.6L346.6,75.6L348.4,75.6L350.1,75.5L351.9,75.5L353.7,75.5L355.4,75.4L357.2,75.4L359.0,75.3L360.7,75.3L362.5,75.3L364.3,75.2L366.1,75.2L367.9,75.2L369.7,75.1L371.5,75.1L373.3,75.0L375.1,75.0L376.9,75.0L378.7,74.9" fill="none" stroke="#ff0000" stroke-width="2.0" stroke-linejoin="round"/>
<g font-size="17" filter="url(#gs)"><text x="88.9" y="254.4" text-anchor="middle">10</text><text x="121.4" y="254.4" text-anchor="middle">20</text><text x="153.9" y="254.4" text-anchor="middle">30</text><text x="186.4" y="254.4" text-anchor="middle">40</text><text x="218.8" y="254.4" text-anchor="middle">50</text><text x="251.3" y="254.4" text-anchor="middle">60</text><text x="283.8" y="254.4" text-anchor="middle">70</text><text x="316.3" y="254.4" text-anchor="middle">80</text><text x="348.7" y="254.4" text-anchor="middle">90</text><text x="381.2" y="254.4" text-anchor="middle">100</text><text x="52.6" y="236.8" text-anchor="end">-4</text><text x="52.6" y="194.6" text-anchor="end">-3</text><text x="52.6" y="152.5" text-anchor="end">-2</text><text x="52.6" y="110.3" text-anchor="end">-1</text><text x="52.6" y="68.2" text-anchor="end">0</text><text x="52.6" y="26.0" text-anchor="end">1</text>
<text transform="translate(221.4,279.3) scale(1.14,1.02)" text-anchor="middle" font-style="italic">N</text>
<g transform="translate(17.7,156.4) rotate(-90)">
<text x="-0.4" y="0">l</text><text x="3.4" y="0">o</text><text x="11.5" y="0">g</text>
<text x="21.5" y="4.9" font-size="13.2">1</text><text x="28.6" y="4.9" font-size="13.2">0</text>
<text x="35.2" y="1.3" font-size="20.8">(</text>
<text transform="translate(42.0,0) scale(1.2,1)" x="0" y="0" font-size="17.5" font-style="italic">R</text>
<text x="53.6" y="1.3" font-size="20.8">)</text>
</g>
</g>
<g font-size="13.5" text-anchor="end" letter-spacing="0.55" filter="url(#gs)">
<text x="313.6" y="182.0">2<tspan font-style="italic">σ</tspan></text>
<text x="313.6" y="202.3">1<tspan font-style="italic">σ</tspan></text>
<text x="313.6" y="222.7">normal hierarchy</text>
</g>
<rect x="323.5" y="171.7" width="34.5" height="10.3" fill="#ffff80"/>
<rect x="323.5" y="191.9" width="34.5" height="10.3" fill="#80ff80"/>
<rect x="323.5" y="212.5" width="34.5" height="10.3" fill="#8080ff"/>
</svg>
</body></html>
